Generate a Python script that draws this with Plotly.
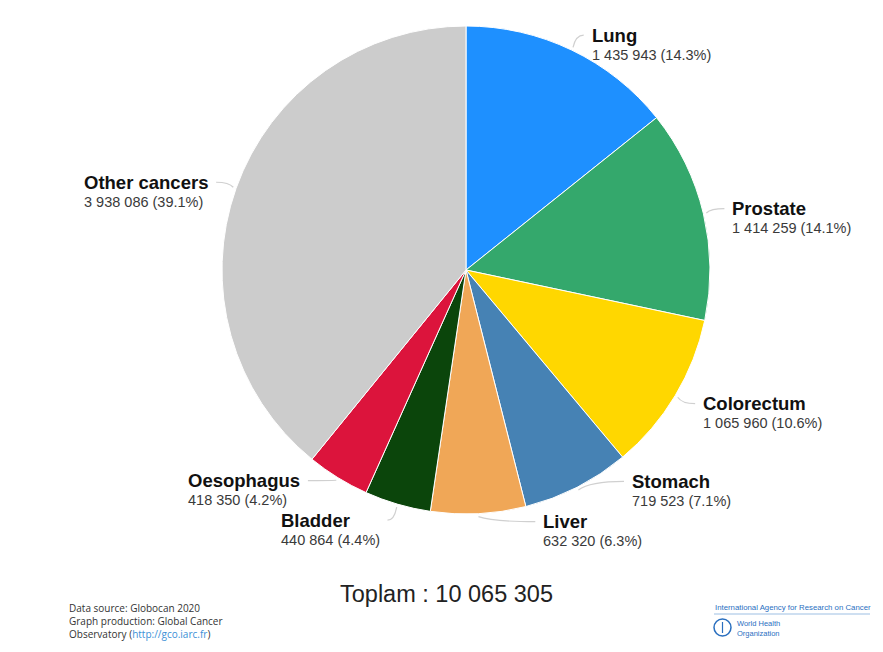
import math
import plotly.graph_objects as go

# Cancer sites, new cases (Globocan 2020), in clockwise order from 12 o'clock
sites = ["Lung", "Prostate", "Colorectum", "Stomach", "Liver",
         "Bladder", "Oesophagus", "Other cancers"]
cases = [1435943, 1414259, 1065960, 719523, 632320, 440864, 418350, 3938086]
colors = ["#1e90ff", "#34a86c", "#ffd700", "#4682b4", "#f0a757",
          "#0b450b", "#dc143c", "#cccccc"]

W, H = 883, 652
CX, CY, R = 466, 270, 244          # pie centre and radius in pixels

# label placement relative to the outer edge of each slice (pixels)
label_offsets = [(18, -15), (27, -5), (26, 8), (53, -6), (63, 8),
                 (-16, 16), (-36, 3), (-26, -6)]


def px(x):
    return x / W


def py(y):
    return 1 - y / H


def fmt(n):
    return f"{n:,}".replace(",", " ")


total = sum(cases)

fig = go.Figure(go.Pie(
    labels=sites,
    values=cases,
    marker=dict(colors=colors, line=dict(color="white", width=1)),
    sort=False,
    direction="clockwise",
    rotation=0,
    textinfo="none",
    hoverinfo="label+value+percent",
    domain=dict(x=[px(CX - R), px(CX + R)], y=[py(CY + R), py(CY - R)]),
    showlegend=False,
))

annotations = []
shapes = []
cum = 0
for name, val, (dx, dy) in zip(sites, cases, label_offsets):
    mid = (cum + val / 2) / total * 2 * math.pi
    cum += val
    sx, sy = math.sin(mid), -math.cos(mid)
    ex, ey = CX + R * sx, CY + R * sy
    right = sx >= 0
    lx, ly = ex + dx, ey + dy
    pct = val / total * 100
    annotations.append(dict(
        x=px(lx), y=py(ly - 12.5), xref="paper", yref="paper",
        xanchor="left" if right else "right", yanchor="top",
        align="left", showarrow=False,
        font=dict(family="Liberation Sans, Arial", size=14, color="#111"),
        text=(f"<span style='font-size:18.5px'><b>{name}</b></span><br>"
              f"<span style='font-size:14.5px;color:#3a3a3a'>{fmt(val)} ({pct:.1f}%)</span>"),
    ))
    # curved connector from slice edge to label
    s0x, s0y = CX + (R + 3) * sx, CY + (R + 3) * sy
    e0x = lx - 6 if right else lx + 6
    e0y = ly
    c0x = s0x + 0.25 * (e0x - s0x)
    c0y = e0y
    shapes.append(dict(
        type="path", xref="paper", yref="paper",
        path=f"M {px(s0x)} {py(s0y)} Q {px(c0x)} {py(c0y)} {px(e0x)} {py(e0y)}",
        line=dict(color="#d0d0d0", width=1.2),
    ))

# total
annotations.append(dict(
    x=px(447), y=py(594), xref="paper", yref="paper", showarrow=False,
    xanchor="center", yanchor="middle",
    font=dict(family="Liberation Sans, Arial", size=23.5, color="#222"),
    text=f"Toplam : {fmt(total)}",
))

# source notes
annotations.append(dict(
    x=px(67), y=py(599), xref="paper", yref="paper", showarrow=False,
    xanchor="left", yanchor="top", align="left",
    font=dict(family="Open Sans, Noto Sans", size=10, color="#333"),
    text=("Data source: Globocan 2020<br>Graph production: Global Cancer<br>"
          "Observatory (<span style='color:#3b8fd6'>http://gco.iarc.fr</span>)"),
))

# agency branding
annotations.append(dict(
    x=px(713), y=py(607), xref="paper", yref="paper", showarrow=False,
    xanchor="left", yanchor="middle",
    font=dict(family="Liberation Sans Narrow, Liberation Sans, Arial", size=7.8, color="#2a6fbf"),
    text="International Agency for Research on Cancer",
))
annotations.append(dict(
    x=px(735), y=py(628), xref="paper", yref="paper", showarrow=False,
    xanchor="left", yanchor="middle", align="left",
    font=dict(family="Liberation Sans Narrow, Liberation Sans, Arial", size=7.5, color="#2a6fbf"),
    text="World Health<br>Organization",
))
shapes.append(dict(type="line", xref="paper", yref="paper",
                   x0=px(714), x1=px(870), y0=py(614), y1=py(614),
                   line=dict(color="#9dbfe3", width=1)))
shapes.append(dict(type="circle", xref="paper", yref="paper",
                   x0=px(714), x1=px(731), y0=py(636), y1=py(619),
                   line=dict(color="#2a6fbf", width=1.5)))
shapes.append(dict(type="line", xref="paper", yref="paper",
                   x0=px(722.5), x1=px(722.5), y0=py(633), y1=py(622),
                   line=dict(color="#2a6fbf", width=1.2)))

fig.update_layout(
    width=W, height=H,
    margin=dict(l=0, r=0, t=0, b=0),
    paper_bgcolor="white", plot_bgcolor="white",
    annotations=annotations, shapes=shapes,
)

fig.write_html("out.html")
